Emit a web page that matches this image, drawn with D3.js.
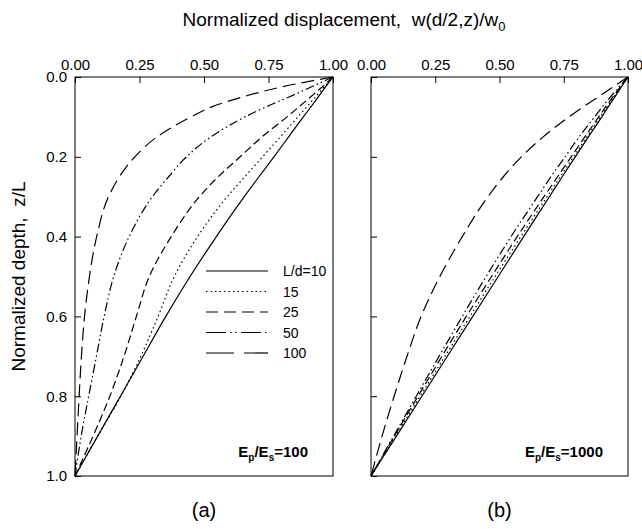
<!DOCTYPE html>
<html>
<head>
<meta charset="utf-8">
<script src="https://cdn.jsdelivr.net/npm/d3@7"></script>
<style>
  body { margin: 0; background: #fff; }
  text { font-family: Arial, "Liberation Sans", sans-serif; fill: #000; }
</style>
</head>
<body>
<script>

// depths z/L shared by every curve
const depth = [0, 0.025, 0.05, 0.075, 0.1, 0.15, 0.2, 0.25, 0.3, 0.4, 0.5, 0.6, 0.7, 0.8, 0.9, 1.0];

// Ep/Es = 100, normalized displacement for each L/d
const soft10  = [1, 0.971, 0.943, 0.914, 0.885, 0.828, 0.771, 0.713, 0.656, 0.548, 0.446, 0.352, 0.264, 0.176, 0.088, 0];
const soft15  = [1, 0.966, 0.932, 0.898, 0.864, 0.796, 0.727, 0.658, 0.590, 0.475, 0.385, 0.322, 0.255, 0.178, 0.088, 0];
const soft25  = [1, 0.958, 0.913, 0.868, 0.822, 0.725, 0.640, 0.555, 0.482, 0.373, 0.288, 0.238, 0.190, 0.135, 0.070, 0];
const soft50  = [1, 0.915, 0.830, 0.740, 0.659, 0.527, 0.432, 0.363, 0.300, 0.210, 0.150, 0.113, 0.083, 0.053, 0.024, 0];
const soft100 = [1, 0.800, 0.650, 0.530, 0.450, 0.318, 0.232, 0.172, 0.130, 0.084, 0.056, 0.037, 0.025, 0.016, 0.008, 0];

// Ep/Es = 1000
const stiff10  = [1, 0.974, 0.949, 0.923, 0.898, 0.846, 0.795, 0.744, 0.694, 0.594, 0.495, 0.396, 0.297, 0.198, 0.099, 0];
const stiff15  = [1, 0.972, 0.945, 0.918, 0.892, 0.840, 0.788, 0.736, 0.685, 0.583, 0.483, 0.385, 0.288, 0.191, 0.095, 0];
const stiff25  = [1, 0.970, 0.941, 0.913, 0.886, 0.832, 0.779, 0.726, 0.673, 0.569, 0.469, 0.371, 0.276, 0.183, 0.091, 0];
const stiff50  = [1, 0.965, 0.932, 0.900, 0.870, 0.810, 0.755, 0.700, 0.648, 0.545, 0.448, 0.355, 0.265, 0.176, 0.088, 0];
const stiff100 = [1, 0.942, 0.884, 0.826, 0.770, 0.670, 0.585, 0.515, 0.455, 0.355, 0.268, 0.195, 0.140, 0.090, 0.043, 0];

const legendLabels = ["L/d=10", "15", "25", "50", "100"];
const xTicks = [0, 0.25, 0.5, 0.75, 1.0];
const yTicks = [0, 0.2, 0.4, 0.6, 0.8, 1.0];

// line patterns, same order as the legend
const dashes = [null, "1.5,3", "8,4", "9,3,1.5,3,1.5,3", "13,6"];
const legendDashes = [null, "1.5,3", "12,6", "20,4,1.5,3.5,1.5,4.5", "28,10"];

const w = 642;
const h = 529;
const font = "Arial, 'Liberation Sans', sans-serif";

const svg = d3.select("body")
  .append("svg")
    .attr("width", w)
    .attr("height", h);

const yScale = d3.scaleLinear()
    .domain([0, 1])
    .range([77, 476]);

const panels = [
  {left: 75, right: 333, series: [soft10, soft15, soft25, soft50, soft100], tag: "(a)", ratio: "100", legend: true, yLabels: true},
  {left: 371, right: 628, series: [stiff10, stiff15, stiff25, stiff50, stiff100], tag: "(b)", ratio: "1000", legend: false, yLabels: false}
];

panels.forEach(function (p) {
  const xScale = d3.scaleLinear()
      .domain([0, 1])
      .range([p.left, p.right]);

  const g = svg.append("g");

  // curves
  const line = d3.line()
      .x(d => xScale(d[1]))
      .y(d => yScale(d[0]))
      .curve(d3.curveMonotoneY);

  p.series.forEach(function (vals, i) {
    g.append("path")
        .datum(depth.map((z, k) => [z, vals[k]]))
        .attr("d", line)
        .attr("fill", "none")
        .attr("stroke", "#000")
        .attr("stroke-width", 1.2)
        .attr("stroke-dasharray", dashes[i]);
  });

  // frame
  g.append("rect")
      .attr("x", p.left)
      .attr("y", yScale(0))
      .attr("width", p.right - p.left)
      .attr("height", yScale(1) - yScale(0))
      .attr("fill", "none")
      .attr("stroke", "#000")
      .attr("stroke-width", 1);

  // top axis, ticks pointing in
  const xAxis = d3.axisTop(xScale)
      .tickValues(xTicks)
      .tickFormat(d3.format(".2f"))
      .tickSizeInner(-6)
      .tickSizeOuter(0)
      .tickPadding(7);

  const gx = g.append("g")
      .attr("transform", `translate(0, ${yScale(0)})`)
      .call(xAxis);
  gx.select(".domain").remove();
  gx.selectAll("text").attr("font-size", 15).attr("font-family", font);
  gx.selectAll("line").attr("stroke", "#000");

  // left axis, ticks pointing in
  const yAxis = d3.axisLeft(yScale)
      .tickValues(yTicks)
      .tickFormat(p.yLabels ? d3.format(".1f") : "")
      .tickSizeInner(-6)
      .tickSizeOuter(0)
      .tickPadding(8);

  const gy = g.append("g")
      .attr("transform", `translate(${p.left}, 0)`)
      .call(yAxis);
  gy.select(".domain").remove();
  gy.selectAll("text").attr("font-size", 15).attr("font-family", font);
  gy.selectAll("line").attr("stroke", "#000");

  // Ep/Es note
  const note = g.append("text")
      .attr("x", p.right - 25)
      .attr("y", 457)
      .attr("text-anchor", "end")
      .attr("font-size", 15)
      .attr("font-weight", "bold");
  note.append("tspan").text("E");
  note.append("tspan").attr("font-size", 10).attr("dy", 4).text("p");
  note.append("tspan").attr("dy", -4).text("/E");
  note.append("tspan").attr("font-size", 10).attr("dy", 4).text("s");
  note.append("tspan").attr("dy", -4).text("=" + p.ratio);

  // panel tag
  g.append("text")
      .attr("x", (p.left + p.right) / 2)
      .attr("y", 517)
      .attr("text-anchor", "middle")
      .attr("font-size", 20)
      .text(p.tag);

  // legend
  if (p.legend) {
    legendLabels.forEach(function (lab, i) {
      const ly = 271 + i * 20.5;
      g.append("line")
          .attr("x1", 206)
          .attr("x2", 268)
          .attr("y1", ly)
          .attr("y2", ly)
          .attr("stroke", "#000")
          .attr("stroke-width", 1.2)
          .attr("stroke-dasharray", legendDashes[i]);
      g.append("text")
          .attr("x", 283)
          .attr("y", ly + 5)
          .attr("font-size", 14)
          .text(lab);
    });
  }
});

// title
const title = svg.append("text")
    .attr("x", 344)
    .attr("y", 26)
    .attr("text-anchor", "middle")
    .attr("font-size", 19);
title.append("tspan").text("Normalized displacement,\u00a0\u00a0w(d/2,z)/w");
title.append("tspan").attr("font-size", 13).attr("dy", 5).text("0");

// y label
svg.append("text")
    .attr("transform", `translate(25, ${yScale(0.5)}) rotate(-90)`)
    .attr("text-anchor", "middle")
    .attr("font-size", 19)
    .text("Normalized depth,\u00a0\u00a0z/L");

</script>
</body>
</html>
